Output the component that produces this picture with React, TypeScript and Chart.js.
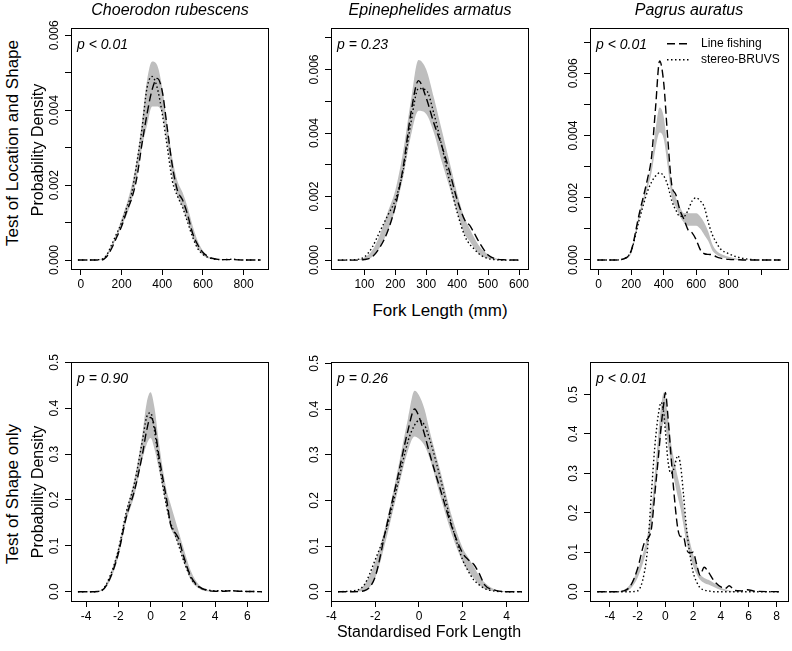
import React, { useEffect, useRef } from 'react';
import { Chart, registerables } from 'chart.js';

Chart.register(...registerables);

const FONT = "'Liberation Sans', Arial, Helvetica, sans-serif";

// ---------- Panel 1: Choerodon rubescens, fork length ----------
const P1_X = [-15, 50, 100, 125, 150, 175, 200, 225, 250, 275, 300, 325, 350, 375, 400, 425, 450, 475, 500, 525, 550, 575, 600, 625, 650, 700, 750, 800, 884];
const P1_LINE = [0, 0, 0, 0.00008, 0.0003, 0.0006, 0.0009, 0.0013, 0.00165, 0.0022, 0.0031, 0.0039, 0.00455, 0.00485, 0.0045, 0.0035, 0.0025, 0.00185, 0.0016, 0.0012, 0.0007, 0.0004, 0.0002, 0.0001, 0.00004, 0.00001, 0.00001, 0, 0];
const P1_BRUVS = [0, 0, 0.00002, 0.00012, 0.0004, 0.0007, 0.001, 0.0014, 0.0018, 0.0026, 0.0035, 0.0046, 0.0049, 0.0046, 0.0039, 0.003, 0.0021, 0.0017, 0.0014, 0.001, 0.0006, 0.0003, 0.00015, 0.00007, 0.00003, 0.00001, 0.00002, 0, 0];
const P1_LO = [0, 0, 0, 0.00008, 0.0003, 0.0006, 0.0009, 0.0012, 0.0016, 0.0022, 0.003, 0.0036, 0.0041, 0.0041, 0.0039, 0.0031, 0.0022, 0.0017, 0.0014, 0.001, 0.0006, 0.0003, 0.00013, 0.00005, 0.00002, 0, 0, 0, 0];
const P1_HI = [0, 0, 0.00002, 0.00015, 0.0004, 0.0007, 0.0011, 0.0015, 0.002, 0.0027, 0.0037, 0.0048, 0.0053, 0.0052, 0.0046, 0.0036, 0.0027, 0.0021, 0.0018, 0.0014, 0.0009, 0.0005, 0.00025, 0.0001, 0.00005, 0.00001, 0, 0, 0];
const P1_XTICKS = [0, 200, 400, 600, 800];
const P1_XLABELS = ['0', '200', '400', '600', '800'];
const P1_YTICKS = [0, 0.001, 0.002, 0.003, 0.004, 0.005, 0.006];
const P1_YLABELS = ['0.000', '', '0.002', '', '0.004', '', '0.006'];

// ---------- Panel 2: Epinephelides armatus, fork length ----------
const P2_X = [14, 75, 100, 125, 150, 175, 200, 225, 250, 275, 300, 325, 350, 375, 400, 425, 440, 450, 475, 500, 525, 550, 606];
const P2_LINE = [0, 0, 0.00002, 0.0001, 0.0004, 0.0009, 0.0017, 0.0029, 0.0046, 0.00565, 0.0051, 0.0043, 0.0036, 0.0028, 0.0019, 0.00125, 0.0011, 0.00094, 0.0005, 0.00016, 0.00004, 0.00001, 0];
const P2_BRUVS = [0, 0.00002, 0.0001, 0.0004, 0.0009, 0.0014, 0.0019, 0.0028, 0.0043, 0.0054, 0.00535, 0.0046, 0.0036, 0.0025, 0.0015, 0.00075, 0.0005, 0.0004, 0.00016, 0.00005, 0.00001, 0, 0];
const P2_LO = [0, 0, 0.00001, 0.0001, 0.0004, 0.0009, 0.0016, 0.0026, 0.0039, 0.0047, 0.0046, 0.004, 0.0031, 0.0023, 0.0015, 0.0008, 0.0006, 0.00045, 0.00015, 0.00005, 0.00001, 0, 0];
const P2_HI = [0, 0.00001, 0.00008, 0.0003, 0.0008, 0.0015, 0.0022, 0.0034, 0.005, 0.0063, 0.006, 0.0051, 0.0041, 0.0031, 0.0021, 0.0013, 0.001, 0.0008, 0.0004, 0.00018, 0.00006, 0.00002, 0];
const P2_XTICKS = [100, 200, 300, 400, 500, 600];
const P2_XLABELS = ['100', '200', '300', '400', '500', '600'];
const P2_YTICKS = [0, 0.001, 0.002, 0.003, 0.004, 0.005, 0.006, 0.007];
const P2_YLABELS = ['0.000', '', '0.002', '', '0.004', '', '0.006', ''];

// ---------- Panel 3: Pagrus auratus, fork length ----------
const P3_X = [-8, 100, 150, 200, 250, 300, 325, 350, 375, 400, 425, 450, 475, 500, 525, 550, 575, 600, 625, 650, 675, 700, 725, 750, 800, 850, 900, 1000, 1120];
const P3_LINE = [0, 0, 0.00003, 0.0003, 0.0015, 0.0026, 0.0033, 0.0049, 0.0064, 0.0057, 0.0039, 0.0024, 0.0021, 0.0016, 0.0013, 0.00097, 0.00087, 0.00065, 0.00033, 0.0002, 0.00018, 0.00017, 0.0001, 0.00006, 0.00002, 0.00001, 0, 0, 0];
const P3_BRUVS = [0, 0, 0.00003, 0.0003, 0.0013, 0.0022, 0.0025, 0.0027, 0.0028, 0.0027, 0.0024, 0.0019, 0.0016, 0.0014, 0.0014, 0.0016, 0.0019, 0.002, 0.0019, 0.0017, 0.0012, 0.0008, 0.00055, 0.00035, 0.0002, 0.0001, 0.00004, 0, 0];
const P3_LO = [0, 0, 0.00002, 0.0002, 0.0013, 0.0023, 0.0028, 0.0036, 0.0041, 0.0039, 0.003, 0.002, 0.0017, 0.0014, 0.0012, 0.0011, 0.0011, 0.0011, 0.001, 0.0008, 0.0006, 0.0003, 0.00018, 0.0001, 0.00004, 0.00001, 0, 0, 0];
const P3_HI = [0, 0, 0.00005, 0.0003, 0.0015, 0.0025, 0.0031, 0.0042, 0.0049, 0.0046, 0.0035, 0.0024, 0.002, 0.0017, 0.0015, 0.0015, 0.0015, 0.0015, 0.0014, 0.0012, 0.0009, 0.0005, 0.0003, 0.0002, 0.0001, 0.00004, 0.00001, 0, 0];
const P3_XTICKS = [0, 200, 400, 600, 800, 1000];
const P3_XLABELS = ['0', '200', '400', '600', '800', ''];
const P3_YTICKS = [0, 0.001, 0.002, 0.003, 0.004, 0.005, 0.006, 0.007];
const P3_YLABELS = ['0.000', '', '0.002', '', '0.004', '', '0.006', ''];

// ---------- Panel 4: Choerodon rubescens, standardised ----------
const P4_X = [-4.5, -3.5, -3, -2.5, -2, -1.5, -1, -0.5, -0.25, 0, 0.25, 0.5, 1, 1.25, 1.5, 1.75, 2, 2.5, 3, 3.5, 4, 4.5, 5, 5.5, 6.9];
const P4_LINE = [0, 0, 0.003, 0.03, 0.083, 0.163, 0.22, 0.3, 0.35, 0.38, 0.36, 0.3, 0.2, 0.145, 0.13, 0.115, 0.083, 0.033, 0.011, 0.003, 0.001, 0.001, 0.002, 0.001, 0];
const P4_BRUVS = [0, 0, 0.004, 0.035, 0.09, 0.174, 0.236, 0.33, 0.38, 0.39, 0.35, 0.287, 0.185, 0.15, 0.127, 0.1, 0.073, 0.03, 0.01, 0.004, 0.002, 0.002, 0.002, 0.001, 0];
const P4_LO = [0, 0, 0.002, 0.025, 0.075, 0.155, 0.21, 0.29, 0.32, 0.335, 0.31, 0.27, 0.18, 0.14, 0.12, 0.1, 0.07, 0.025, 0.007, 0.001, 0, 0, 0, 0, 0];
const P4_HI = [0, 0.001, 0.005, 0.037, 0.097, 0.178, 0.245, 0.345, 0.41, 0.435, 0.4, 0.33, 0.22, 0.19, 0.16, 0.13, 0.1, 0.045, 0.015, 0.004, 0.001, 0, 0, 0, 0];
const P4_XTICKS = [-4, -2, 0, 2, 4, 6];
const P4_XLABELS = ['-4', '-2', '0', '2', '4', '6'];
const P4_YTICKS = [0, 0.1, 0.2, 0.3, 0.4, 0.5];
const P4_YLABELS = ['0.0', '0.1', '0.2', '0.3', '0.4', '0.5'];

// ---------- Panel 5: Epinephelides armatus, standardised ----------
const P5_X = [-3.7, -3, -2.5, -2, -1.5, -1, -0.5, -0.2, 0, 0.25, 0.5, 1, 1.5, 2, 2.25, 2.5, 2.75, 3, 3.5, 4, 4.7];
const P5_LINE = [0, 0, 0.002, 0.033, 0.14, 0.245, 0.354, 0.4, 0.383, 0.345, 0.3, 0.22, 0.142, 0.084, 0.07, 0.06, 0.04, 0.015, 0.003, 0, 0];
const P5_BRUVS = [0, 0.002, 0.015, 0.07, 0.135, 0.23, 0.33, 0.365, 0.375, 0.365, 0.332, 0.244, 0.146, 0.069, 0.045, 0.026, 0.015, 0.007, 0.001, 0, 0];
const P5_LO = [0, 0, 0.002, 0.03, 0.115, 0.215, 0.31, 0.34, 0.335, 0.32, 0.29, 0.205, 0.125, 0.065, 0.045, 0.03, 0.015, 0.006, 0.001, 0, 0];
const P5_HI = [0, 0.001, 0.015, 0.065, 0.15, 0.26, 0.38, 0.44, 0.43, 0.4, 0.35, 0.26, 0.165, 0.095, 0.075, 0.055, 0.035, 0.02, 0.004, 0.001, 0];
const P5_XTICKS = [-4, -2, 0, 2, 4];
const P5_XLABELS = ['-4', '-2', '0', '2', '4'];
const P5_YTICKS = [0, 0.1, 0.2, 0.3, 0.4, 0.5];
const P5_YLABELS = ['0.0', '0.1', '0.2', '0.3', '0.4', '0.5'];

// ---------- Panel 6: Pagrus auratus, standardised ----------
const P6_X = [-4.9, -3.5, -3, -2.5, -2, -1.5, -1.25, -1, -0.75, -0.5, -0.3, -0.1, 0, 0.2, 0.4, 0.6, 0.9, 1.1, 1.3, 1.5, 1.75, 2, 2.25, 2.5, 2.8, 3.1, 3.5, 4, 4.3, 4.6, 5, 5.5, 5.9, 6.5, 8.3];
const P6_LINE = [0, 0, 0.002, 0.015, 0.058, 0.125, 0.135, 0.16, 0.25, 0.34, 0.42, 0.48, 0.505, 0.44, 0.35, 0.26, 0.16, 0.14, 0.14, 0.11, 0.098, 0.1, 0.07, 0.042, 0.062, 0.05, 0.028, 0.012, 0.008, 0.015, 0.003, 0.002, 0.005, 0.001, 0];
const P6_BRUVS = [0, 0, 0, 0, 0.002, 0.05, 0.12, 0.25, 0.37, 0.45, 0.48, 0.45, 0.41, 0.33, 0.3, 0.31, 0.345, 0.32, 0.25, 0.17, 0.1, 0.05, 0.025, 0.01, 0.004, 0.002, 0, 0, 0, 0, 0, 0, 0, 0, 0];
const P6_LO = [0, 0, 0, 0.008, 0.035, 0.085, 0.12, 0.17, 0.24, 0.33, 0.4, 0.43, 0.42, 0.37, 0.33, 0.29, 0.24, 0.21, 0.17, 0.13, 0.095, 0.065, 0.045, 0.03, 0.022, 0.018, 0.012, 0.004, 0.002, 0.001, 0, 0, 0, 0, 0];
const P6_HI = [0, 0, 0.004, 0.02, 0.055, 0.11, 0.15, 0.21, 0.3, 0.4, 0.47, 0.505, 0.49, 0.44, 0.38, 0.34, 0.29, 0.26, 0.22, 0.17, 0.13, 0.095, 0.07, 0.045, 0.035, 0.03, 0.022, 0.01, 0.006, 0.003, 0.001, 0, 0, 0, 0];
const P6_XTICKS = [-4, -2, 0, 2, 4, 6, 8];
const P6_XLABELS = ['-4', '-2', '0', '2', '4', '6', '8'];
const P6_YTICKS = [0, 0.1, 0.2, 0.3, 0.4, 0.5];
const P6_YLABELS = ['0.0', '0.1', '0.2', '0.3', '0.4', '0.5'];

const P_VALUES = ['p < 0.01', 'p = 0.23', 'p < 0.01', 'p = 0.90', 'p = 0.26', 'p < 0.01'];
const SPECIES = ['Choerodon rubescens', 'Epinephelides armatus', 'Pagrus auratus'];
const SERIES_NAMES = ['Line fishing', 'stereo-BRUVS'];

// layout (pixel boxes of plot regions) and axis ranges
const PANELS = [
  { box: [71, 28, 268, 269], xr: [-49, 920], yr: [-0.00024, 0.00619], x: P1_X, line: P1_LINE, bruvs: P1_BRUVS, lo: P1_LO, hi: P1_HI, xt: P1_XTICKS, xl: P1_XLABELS, yt: P1_YTICKS, yl: P1_YLABELS, p: P_VALUES[0], legend: false },
  { box: [331, 28, 528, 269], xr: [-8, 629], yr: [-0.00028, 0.0073], x: P2_X, line: P2_LINE, bruvs: P2_BRUVS, lo: P2_LO, hi: P2_HI, xt: P2_XTICKS, xl: P2_XLABELS, yt: P2_YTICKS, yl: P2_YLABELS, p: P_VALUES[1], legend: false },
  { box: [590, 28, 788, 269], xr: [-53.5, 1165], yr: [-0.00029, 0.00745], x: P3_X, line: P3_LINE, bruvs: P3_BRUVS, lo: P3_LO, hi: P3_HI, xt: P3_XTICKS, xl: P3_XLABELS, yt: P3_YTICKS, yl: P3_YLABELS, p: P_VALUES[2], legend: true },
  { box: [71, 362, 268, 601], xr: [-4.93, 7.28], yr: [-0.0203, 0.5004], x: P4_X, line: P4_LINE, bruvs: P4_BRUVS, lo: P4_LO, hi: P4_HI, xt: P4_XTICKS, xl: P4_XLABELS, yt: P4_YTICKS, yl: P4_YLABELS, p: P_VALUES[3], legend: false },
  { box: [331, 362, 528, 601], xr: [-4.02, 4.98], yr: [-0.0204, 0.5026], x: P5_X, line: P5_LINE, bruvs: P5_BRUVS, lo: P5_LO, hi: P5_HI, xt: P5_XTICKS, xl: P5_XLABELS, yt: P5_YTICKS, yl: P5_YLABELS, p: P_VALUES[4], legend: false },
  { box: [590, 362, 788, 601], xr: [-5.42, 8.83], yr: [-0.0236, 0.582], x: P6_X, line: P6_LINE, bruvs: P6_BRUVS, lo: P6_LO, hi: P6_HI, xt: P6_XTICKS, xl: P6_XLABELS, yt: P6_YTICKS, yl: P6_YLABELS, p: P_VALUES[5], legend: false },
];

const PAD_L = 40;
const PAD_T = 10;
const PAD_R = 12;
const PAD_B = 30;

const DASH = [8, 4];
const DOT = [1.5, 2.5];

const pts = (xs: number[], ys: number[]) => xs.map((x, i) => ({ x, y: ys[i] }));

const decoPlugin = {
  id: 'deco',
  afterDraw(chart: any, _args: any, opts: any) {
    const { ctx, chartArea: a, scales } = chart;
    ctx.save();
    // box
    ctx.strokeStyle = '#000';
    ctx.lineWidth = 1;
    ctx.setLineDash([]);
    ctx.strokeRect(Math.round(a.left) + 0.5, Math.round(a.top) + 0.5, Math.round(a.right - a.left), Math.round(a.bottom - a.top));
    // rotated y tick labels
    const ys = scales.y;
    ctx.fillStyle = '#000';
    ctx.font = `12px ${FONT}`;
    ctx.textAlign = 'center';
    ctx.textBaseline = 'middle';
    ys.ticks.forEach((t: any, i: number) => {
      const lab = opts.yLabels[i];
      if (!lab) return;
      const py = ys.getPixelForValue(t.value);
      ctx.save();
      ctx.translate(a.left - 16, py);
      ctx.rotate(-Math.PI / 2);
      ctx.fillText(lab, 0, 0);
      ctx.restore();
    });
    // p value
    ctx.font = `italic 14px ${FONT}`;
    ctx.textAlign = 'left';
    ctx.fillText(opts.pText, a.left + 6, a.top + 17);
    // legend
    if (opts.legend) {
      const ds = chart.data.datasets;
      const rows = [ds[0], ds[1]];
      rows.forEach((d: any, i: number) => {
        const y = a.top + 15.5 + i * 16;
        ctx.strokeStyle = '#000';
        ctx.lineWidth = d.borderWidth;
        ctx.setLineDash(d.borderDash);
        ctx.beginPath();
        ctx.moveTo(a.left + 77, y);
        ctx.lineTo(a.left + 99, y);
        ctx.stroke();
        ctx.setLineDash([]);
        ctx.font = `12px ${FONT}`;
        ctx.fillText(d.label, a.left + 111, y);
      });
    }
    ctx.restore();
  },
};

function Panel({ cfg }: { cfg: any }) {
  const ref = useRef<HTMLCanvasElement | null>(null);
  const [l, t, r, b] = cfg.box;
  const w = r - l + PAD_L + PAD_R;
  const h = b - t + PAD_T + PAD_B;
  useEffect(() => {
    if (!ref.current) return;
    const chart = new Chart(ref.current, {
      type: 'line',
      data: {
        datasets: [
          { label: SERIES_NAMES[0], data: pts(cfg.x, cfg.line), fill: false, borderColor: '#000', borderWidth: 1.4, borderDash: DASH, pointRadius: 0 },
          { label: SERIES_NAMES[1], data: pts(cfg.x, cfg.bruvs), fill: false, borderColor: '#000', borderWidth: 1.4, borderDash: DOT, pointRadius: 0 },
          { label: 'band-hi', data: pts(cfg.x, cfg.hi), fill: '+1', backgroundColor: '#bebebe', borderColor: 'rgba(0,0,0,0)', borderWidth: 0, pointRadius: 0 },
          { label: 'band-lo', data: pts(cfg.x, cfg.lo), fill: false, borderColor: 'rgba(0,0,0,0)', borderWidth: 0, pointRadius: 0 },
        ],
      } as any,
      options: {
        animation: false,
        responsive: false,
        maintainAspectRatio: false,
        events: [],
        elements: { line: { cubicInterpolationMode: 'monotone' } },
        layout: { padding: { left: 0, top: PAD_T, right: PAD_R, bottom: 0 } },
        plugins: {
          legend: { display: false },
          tooltip: { enabled: false },
          deco: { yLabels: cfg.yl, pText: cfg.p, legend: cfg.legend },
        } as any,
        scales: {
          x: {
            type: 'linear',
            min: cfg.xr[0],
            max: cfg.xr[1],
            afterBuildTicks: (s: any) => { s.ticks = cfg.xt.map((v: number) => ({ value: v })); },
            afterFit: (s: any) => { s.height = PAD_B; },
            ticks: {
              autoSkip: false,
              maxRotation: 0,
              minRotation: 0,
              padding: 2,
              color: '#000',
              font: { size: 12, family: FONT },
              callback: (_v: any, i: number) => cfg.xl[i],
            },
            grid: { display: true, drawOnChartArea: false, drawTicks: true, tickLength: 6, color: '#000', lineWidth: 1 },
            border: { display: false },
          },
          y: {
            type: 'linear',
            min: cfg.yr[0],
            max: cfg.yr[1],
            afterBuildTicks: (s: any) => { s.ticks = cfg.yt.map((v: number) => ({ value: v })); },
            afterFit: (s: any) => { s.width = PAD_L; },
            ticks: {
              autoSkip: false,
              color: 'rgba(0,0,0,0)',
              font: { size: 12, family: FONT },
              callback: () => '',
            },
            grid: { display: true, drawOnChartArea: false, drawTicks: true, tickLength: 6, color: '#000', lineWidth: 1 },
            border: { display: false },
          },
        } as any,
      },
      plugins: [decoPlugin],
    });
    return () => chart.destroy();
  }, []);
  return (
    <canvas
      ref={ref}
      width={w}
      height={h}
      style={{ position: 'absolute', left: l - PAD_L, top: t - PAD_T, width: w, height: h }}
    />
  );
}

function Label({ text, cx, cy, size, italic, rotate, w }: any) {
  const lh = 22;
  return (
    <div
      style={{
        position: 'absolute',
        left: cx - w / 2,
        top: cy - lh / 2,
        width: w,
        height: lh,
        lineHeight: `${lh}px`,
        textAlign: 'center',
        fontSize: size,
        fontStyle: italic ? 'italic' : 'normal',
        fontFamily: FONT,
        color: '#000',
        whiteSpace: 'nowrap',
        transform: rotate ? 'rotate(-90deg)' : undefined,
        transformOrigin: 'center center',
      }}
    >
      {text}
    </div>
  );
}

export default function App() {
  return (
    <div style={{ position: 'absolute', left: 0, top: 0, width: 792, height: 651, background: '#fff', overflow: 'hidden' }}>
      {PANELS.map((p, i) => (
        <Panel key={i} cfg={p} />
      ))}
      <Label text={SPECIES[0]} cx={170} cy={10} size={16} italic w={260} />
      <Label text={SPECIES[1]} cx={430} cy={10} size={16} italic w={260} />
      <Label text={SPECIES[2]} cx={689} cy={10} size={16} italic w={260} />
      <Label text="Test of Location and Shape" cx={13} cy={143} size={17} rotate w={260} />
      <Label text="Probability Density" cx={38} cy={150} size={16} rotate w={200} />
      <Label text="Test of Shape only" cx={13} cy={494} size={17} rotate w={260} />
      <Label text="Probability Density" cx={38} cy={492} size={16} rotate w={200} />
      <Label text="Fork Length (mm)" cx={440} cy={311} size={17} w={240} />
      <Label text="Standardised Fork Length" cx={429} cy={632} size={16} w={300} />
    </div>
  );
}
